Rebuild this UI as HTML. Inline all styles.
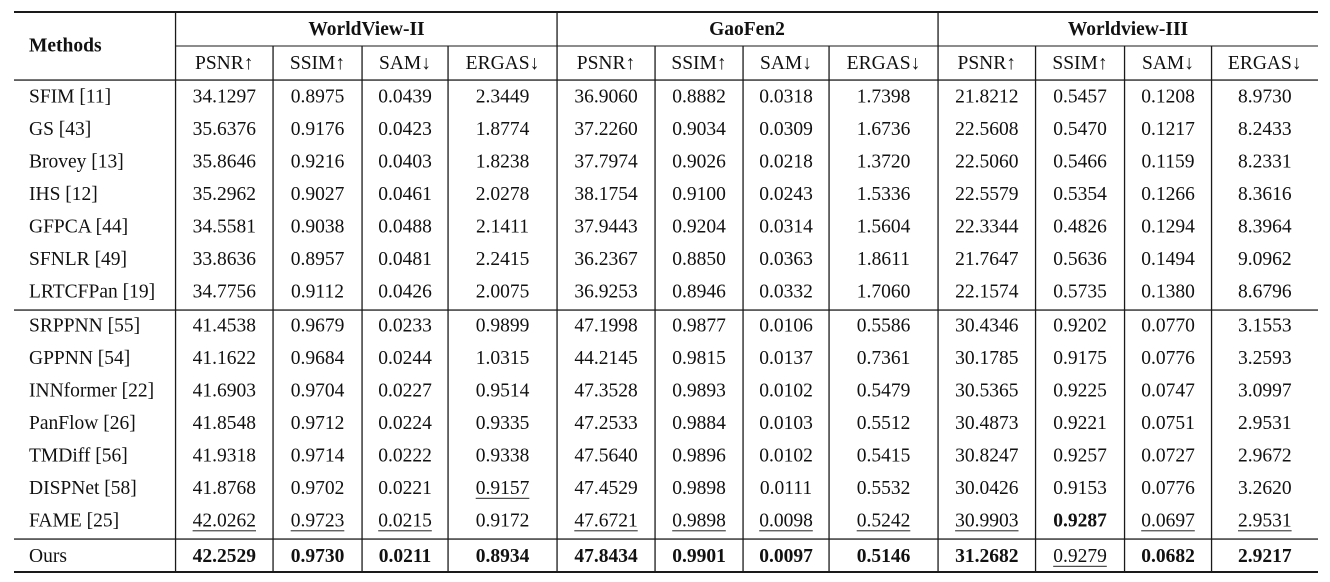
<!DOCTYPE html>
<html><head><meta charset="utf-8"><style>
html,body{margin:0;padding:0;background:#fff;}
svg{display:block;}
text{font-family:"Liberation Serif","Times New Roman",serif;font-size:19.5px;fill:#111;}
.b{font-weight:bold;}
.l{text-anchor:start;}
</style></head><body>
<svg width="1330" height="582" viewBox="0 0 1330 582" xmlns="http://www.w3.org/2000/svg">
<rect width="1330" height="582" fill="#fff"/>
<!-- horizontal rules -->
<g fill="#1a1a1a">
<rect x="14" y="11" width="1304" height="2"/>
<rect x="175.5" y="45.5" width="1142.5" height="1"/>
<rect x="14" y="79.4" width="1304" height="1.3"/>
<rect x="14" y="309.4" width="1304" height="1.3"/>
<rect x="14" y="538.4" width="1304" height="1.3"/>
<rect x="14" y="571" width="1304" height="2"/>
<!-- vertical rules -->
<rect x="174.9" y="12" width="1.3" height="560"/>
<rect x="556.4" y="12" width="1.3" height="560"/>
<rect x="937.4" y="12" width="1.3" height="560"/>
<rect x="272.4" y="46" width="1.3" height="526"/>
<rect x="361.4" y="46" width="1.3" height="526"/>
<rect x="447.4" y="46" width="1.3" height="526"/>
<rect x="654.4" y="46" width="1.3" height="526"/>
<rect x="742.4" y="46" width="1.3" height="526"/>
<rect x="828.4" y="46" width="1.3" height="526"/>
<rect x="1034.9" y="46" width="1.3" height="526"/>
<rect x="1123.9" y="46" width="1.3" height="526"/>
<rect x="1210.9" y="46" width="1.3" height="526"/>
</g>
<!-- header -->
<text class="b l" x="29" y="51.5">Methods</text>
<g text-anchor="middle">
<text class="b" x="366.5" y="34.8">WorldView-II</text>
<text class="b" x="747" y="34.8">GaoFen2</text>
<text class="b" x="1128" y="34.8">Worldview-III</text>
<text x="224.25" y="69">PSNR↑</text><text x="317.5" y="69">SSIM↑</text><text x="405" y="69">SAM↓</text><text x="502.5" y="69">ERGAS↓</text>
<text x="606" y="69">PSNR↑</text><text x="699" y="69">SSIM↑</text><text x="786" y="69">SAM↓</text><text x="883.5" y="69">ERGAS↓</text>
<text x="986.75" y="69">PSNR↑</text><text x="1080" y="69">SSIM↑</text><text x="1168" y="69">SAM↓</text><text x="1264.75" y="69">ERGAS↓</text>
</g>
<!-- method names -->
<g class="l">
<text class="l" x="29" y="102.7">SFIM [11]</text>
<text class="l" x="29" y="135.15">GS [43]</text>
<text class="l" x="29" y="167.6">Brovey [13]</text>
<text class="l" x="29" y="200.05">IHS [12]</text>
<text class="l" x="29" y="232.5">GFPCA [44]</text>
<text class="l" x="29" y="264.95">SFNLR [49]</text>
<text class="l" x="29" y="297.4">LRTCFPan [19]</text>
<text class="l" x="29" y="331.7">SRPPNN [55]</text>
<text class="l" x="29" y="364.2">GPPNN [54]</text>
<text class="l" x="29" y="396.7">INNformer [22]</text>
<text class="l" x="29" y="429.2">PanFlow [26]</text>
<text class="l" x="29" y="461.7">TMDiff [56]</text>
<text class="l" x="29" y="494.2">DISPNet [58]</text>
<text class="l" x="29" y="526.7">FAME [25]</text>
<text class="l" x="29" y="562.2">Ours</text>
</g>
<g text-anchor="middle">
<!-- SFIM -->
<text x="224.25" y="102.7">34.1297</text><text x="317.5" y="102.7">0.8975</text><text x="405" y="102.7">0.0439</text><text x="502.5" y="102.7">2.3449</text>
<text x="606" y="102.7">36.9060</text><text x="699" y="102.7">0.8882</text><text x="786" y="102.7">0.0318</text><text x="883.5" y="102.7">1.7398</text>
<text x="986.75" y="102.7">21.8212</text><text x="1080" y="102.7">0.5457</text><text x="1168" y="102.7">0.1208</text><text x="1264.75" y="102.7">8.9730</text>
<!-- GS -->
<text x="224.25" y="135.15">35.6376</text><text x="317.5" y="135.15">0.9176</text><text x="405" y="135.15">0.0423</text><text x="502.5" y="135.15">1.8774</text>
<text x="606" y="135.15">37.2260</text><text x="699" y="135.15">0.9034</text><text x="786" y="135.15">0.0309</text><text x="883.5" y="135.15">1.6736</text>
<text x="986.75" y="135.15">22.5608</text><text x="1080" y="135.15">0.5470</text><text x="1168" y="135.15">0.1217</text><text x="1264.75" y="135.15">8.2433</text>
<!-- Brovey -->
<text x="224.25" y="167.6">35.8646</text><text x="317.5" y="167.6">0.9216</text><text x="405" y="167.6">0.0403</text><text x="502.5" y="167.6">1.8238</text>
<text x="606" y="167.6">37.7974</text><text x="699" y="167.6">0.9026</text><text x="786" y="167.6">0.0218</text><text x="883.5" y="167.6">1.3720</text>
<text x="986.75" y="167.6">22.5060</text><text x="1080" y="167.6">0.5466</text><text x="1168" y="167.6">0.1159</text><text x="1264.75" y="167.6">8.2331</text>
<!-- IHS -->
<text x="224.25" y="200.05">35.2962</text><text x="317.5" y="200.05">0.9027</text><text x="405" y="200.05">0.0461</text><text x="502.5" y="200.05">2.0278</text>
<text x="606" y="200.05">38.1754</text><text x="699" y="200.05">0.9100</text><text x="786" y="200.05">0.0243</text><text x="883.5" y="200.05">1.5336</text>
<text x="986.75" y="200.05">22.5579</text><text x="1080" y="200.05">0.5354</text><text x="1168" y="200.05">0.1266</text><text x="1264.75" y="200.05">8.3616</text>
<!-- GFPCA -->
<text x="224.25" y="232.5">34.5581</text><text x="317.5" y="232.5">0.9038</text><text x="405" y="232.5">0.0488</text><text x="502.5" y="232.5">2.1411</text>
<text x="606" y="232.5">37.9443</text><text x="699" y="232.5">0.9204</text><text x="786" y="232.5">0.0314</text><text x="883.5" y="232.5">1.5604</text>
<text x="986.75" y="232.5">22.3344</text><text x="1080" y="232.5">0.4826</text><text x="1168" y="232.5">0.1294</text><text x="1264.75" y="232.5">8.3964</text>
<!-- SFNLR -->
<text x="224.25" y="264.95">33.8636</text><text x="317.5" y="264.95">0.8957</text><text x="405" y="264.95">0.0481</text><text x="502.5" y="264.95">2.2415</text>
<text x="606" y="264.95">36.2367</text><text x="699" y="264.95">0.8850</text><text x="786" y="264.95">0.0363</text><text x="883.5" y="264.95">1.8611</text>
<text x="986.75" y="264.95">21.7647</text><text x="1080" y="264.95">0.5636</text><text x="1168" y="264.95">0.1494</text><text x="1264.75" y="264.95">9.0962</text>
<!-- LRTCFPan -->
<text x="224.25" y="297.4">34.7756</text><text x="317.5" y="297.4">0.9112</text><text x="405" y="297.4">0.0426</text><text x="502.5" y="297.4">2.0075</text>
<text x="606" y="297.4">36.9253</text><text x="699" y="297.4">0.8946</text><text x="786" y="297.4">0.0332</text><text x="883.5" y="297.4">1.7060</text>
<text x="986.75" y="297.4">22.1574</text><text x="1080" y="297.4">0.5735</text><text x="1168" y="297.4">0.1380</text><text x="1264.75" y="297.4">8.6796</text>
<!-- SRPPNN -->
<text x="224.25" y="331.7">41.4538</text><text x="317.5" y="331.7">0.9679</text><text x="405" y="331.7">0.0233</text><text x="502.5" y="331.7">0.9899</text>
<text x="606" y="331.7">47.1998</text><text x="699" y="331.7">0.9877</text><text x="786" y="331.7">0.0106</text><text x="883.5" y="331.7">0.5586</text>
<text x="986.75" y="331.7">30.4346</text><text x="1080" y="331.7">0.9202</text><text x="1168" y="331.7">0.0770</text><text x="1264.75" y="331.7">3.1553</text>
<!-- GPPNN -->
<text x="224.25" y="364.2">41.1622</text><text x="317.5" y="364.2">0.9684</text><text x="405" y="364.2">0.0244</text><text x="502.5" y="364.2">1.0315</text>
<text x="606" y="364.2">44.2145</text><text x="699" y="364.2">0.9815</text><text x="786" y="364.2">0.0137</text><text x="883.5" y="364.2">0.7361</text>
<text x="986.75" y="364.2">30.1785</text><text x="1080" y="364.2">0.9175</text><text x="1168" y="364.2">0.0776</text><text x="1264.75" y="364.2">3.2593</text>
<!-- INNformer -->
<text x="224.25" y="396.7">41.6903</text><text x="317.5" y="396.7">0.9704</text><text x="405" y="396.7">0.0227</text><text x="502.5" y="396.7">0.9514</text>
<text x="606" y="396.7">47.3528</text><text x="699" y="396.7">0.9893</text><text x="786" y="396.7">0.0102</text><text x="883.5" y="396.7">0.5479</text>
<text x="986.75" y="396.7">30.5365</text><text x="1080" y="396.7">0.9225</text><text x="1168" y="396.7">0.0747</text><text x="1264.75" y="396.7">3.0997</text>
<!-- PanFlow -->
<text x="224.25" y="429.2">41.8548</text><text x="317.5" y="429.2">0.9712</text><text x="405" y="429.2">0.0224</text><text x="502.5" y="429.2">0.9335</text>
<text x="606" y="429.2">47.2533</text><text x="699" y="429.2">0.9884</text><text x="786" y="429.2">0.0103</text><text x="883.5" y="429.2">0.5512</text>
<text x="986.75" y="429.2">30.4873</text><text x="1080" y="429.2">0.9221</text><text x="1168" y="429.2">0.0751</text><text x="1264.75" y="429.2">2.9531</text>
<!-- TMDiff -->
<text x="224.25" y="461.7">41.9318</text><text x="317.5" y="461.7">0.9714</text><text x="405" y="461.7">0.0222</text><text x="502.5" y="461.7">0.9338</text>
<text x="606" y="461.7">47.5640</text><text x="699" y="461.7">0.9896</text><text x="786" y="461.7">0.0102</text><text x="883.5" y="461.7">0.5415</text>
<text x="986.75" y="461.7">30.8247</text><text x="1080" y="461.7">0.9257</text><text x="1168" y="461.7">0.0727</text><text x="1264.75" y="461.7">2.9672</text>
<!-- DISPNet -->
<text x="224.25" y="494.2">41.8768</text><text x="317.5" y="494.2">0.9702</text><text x="405" y="494.2">0.0221</text><text x="502.5" y="494.2">0.9157</text>
<text x="606" y="494.2">47.4529</text><text x="699" y="494.2">0.9898</text><text x="786" y="494.2">0.0111</text><text x="883.5" y="494.2">0.5532</text>
<text x="986.75" y="494.2">30.0426</text><text x="1080" y="494.2">0.9153</text><text x="1168" y="494.2">0.0776</text><text x="1264.75" y="494.2">3.2620</text>
<!-- FAME -->
<text x="224.25" y="526.7">42.0262</text><text x="317.5" y="526.7">0.9723</text><text x="405" y="526.7">0.0215</text><text x="502.5" y="526.7">0.9172</text>
<text x="606" y="526.7">47.6721</text><text x="699" y="526.7">0.9898</text><text x="786" y="526.7">0.0098</text><text x="883.5" y="526.7">0.5242</text>
<text x="986.75" y="526.7">30.9903</text><text class="b" x="1080" y="526.7">0.9287</text><text x="1168" y="526.7">0.0697</text><text x="1264.75" y="526.7">2.9531</text>
<!-- Ours -->
<text class="b" x="224.25" y="562.2">42.2529</text><text class="b" x="317.5" y="562.2">0.9730</text><text class="b" x="405" y="562.2">0.0211</text><text class="b" x="502.5" y="562.2">0.8934</text>
<text class="b" x="606" y="562.2">47.8434</text><text class="b" x="699" y="562.2">0.9901</text><text class="b" x="786" y="562.2">0.0097</text><text class="b" x="883.5" y="562.2">0.5146</text>
<text class="b" x="986.75" y="562.2">31.2682</text><text x="1080" y="562.2">0.9279</text><text class="b" x="1168" y="562.2">0.0682</text><text class="b" x="1264.75" y="562.2">2.9217</text>
</g>
<!-- underlines -->
<g fill="#222">
<rect x="475.7" y="497.8" width="53.6" height="1"/>
<rect x="192.6" y="530.3" width="63.4" height="1"/>
<rect x="290.7" y="530.3" width="53.6" height="1"/>
<rect x="378.2" y="530.3" width="53.6" height="1"/>
<rect x="574.3" y="530.3" width="63.4" height="1"/>
<rect x="672.2" y="530.3" width="53.6" height="1"/>
<rect x="759.2" y="530.3" width="53.6" height="1"/>
<rect x="856.7" y="530.3" width="53.6" height="1"/>
<rect x="955.1" y="530.3" width="63.4" height="1"/>
<rect x="1141.2" y="530.3" width="53.6" height="1"/>
<rect x="1238" y="530.3" width="53.6" height="1"/>
<rect x="1053.2" y="565.8" width="53.6" height="1"/>
</g>
</svg>
</body></html>
